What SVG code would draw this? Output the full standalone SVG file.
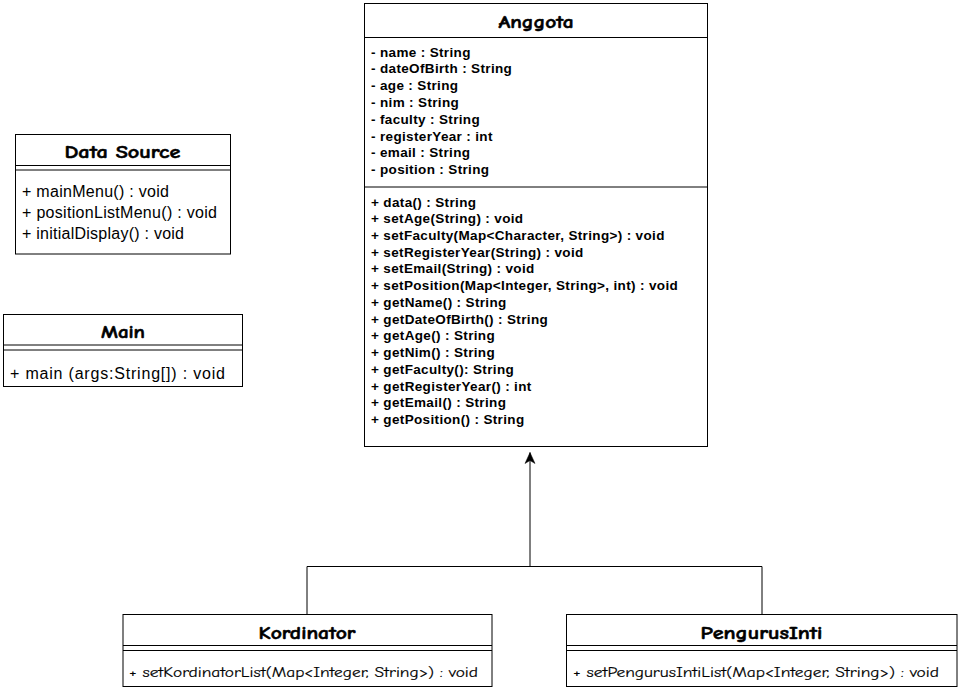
<svg xmlns="http://www.w3.org/2000/svg" width="960" height="693" viewBox="0 0 960 693">
<defs>
<style>
.box{fill:#fff;stroke:#000;stroke-width:1}
.ln{stroke:#000;stroke-width:1;fill:none}
.title{font-family:'Comic Sans MS','Comic Neue','DejaVu Sans',sans-serif;font-weight:bold;font-size:17px;text-anchor:middle;fill:#000;stroke:#000;stroke-width:0.5}
.cm{font-family:'Comic Sans MS','Comic Neue','DejaVu Sans',sans-serif;font-size:13px;fill:#000;stroke:#000;stroke-width:0.15}
.ab{font-family:'Liberation Sans',Arial,sans-serif;font-weight:bold;font-size:13.5px;letter-spacing:0.35px;fill:#000}
.ar{font-family:'Liberation Sans',Arial,sans-serif;font-size:16px;fill:#000}
</style>
<marker id="arr" viewBox="0 0 12 12" refX="11" refY="6" markerWidth="12" markerHeight="12" markerUnits="userSpaceOnUse" orient="auto">
<path d="M0,1 L11,6 L0,11 L3,6 Z" fill="#000" stroke="#000" stroke-width="0.5"/>
</marker>
</defs>
<rect width="960" height="693" fill="#fff"/>

<g id="connectors">
<path class="ln" d="M307,614.5 V566.5 H762 V614.5"/>
<path class="ln" d="M530,566.5 V452.5" marker-end="url(#arr)"/>
</g>

<g id="anggota">
<rect class="box" x="364.5" y="3.5" width="343" height="443"/>
<line class="ln" x1="364.5" y1="37.5" x2="707.5" y2="37.5"/>
<line class="ln" x1="364.5" y1="187" x2="707.5" y2="187"/>
<text class="title" x="536" y="28" textLength="75" lengthAdjust="spacingAndGlyphs">Anggota</text>
<text class="ab" x="371" y="56.5">- name : String</text>
<text class="ab" x="371" y="73.3">- dateOfBirth : String</text>
<text class="ab" x="371" y="90.1">- age : String</text>
<text class="ab" x="371" y="106.9">- nim : String</text>
<text class="ab" x="371" y="123.7">- faculty : String</text>
<text class="ab" x="371" y="140.5">- registerYear : int</text>
<text class="ab" x="371" y="157.3">- email : String</text>
<text class="ab" x="371" y="174.1">- position : String</text>
<text class="ab" x="371" y="206.5">+ data() : String</text>
<text class="ab" x="371" y="223.2">+ setAge(String) : void</text>
<text class="ab" x="371" y="240">+ setFaculty(Map&lt;Character, String&gt;) : void</text>
<text class="ab" x="371" y="256.7">+ setRegisterYear(String) : void</text>
<text class="ab" x="371" y="273.4">+ setEmail(String) : void</text>
<text class="ab" x="371" y="290.2">+ setPosition(Map&lt;Integer, String&gt;, int) : void</text>
<text class="ab" x="371" y="306.9">+ getName() : String</text>
<text class="ab" x="371" y="323.6">+ getDateOfBirth() : String</text>
<text class="ab" x="371" y="340.3">+ getAge() : String</text>
<text class="ab" x="371" y="357.1">+ getNim() : String</text>
<text class="ab" x="371" y="373.8">+ getFaculty(): String</text>
<text class="ab" x="371" y="390.5">+ getRegisterYear() : int</text>
<text class="ab" x="371" y="407.3">+ getEmail() : String</text>
<text class="ab" x="371" y="424">+ getPosition() : String</text>
</g>

<g id="data-source">
<rect class="box" x="15.5" y="134.5" width="215" height="119.5"/>
<line class="ln" x1="15.5" y1="165.5" x2="230.5" y2="165.5"/>
<line class="ln" x1="15.5" y1="170" x2="230.5" y2="170"/>
<text class="title" x="122.5" y="158" textLength="116" lengthAdjust="spacingAndGlyphs">Data Source</text>
<text class="ar" x="22" y="197" textLength="147">+ mainMenu() : void</text>
<text class="ar" x="22" y="218" textLength="195">+ positionListMenu() : void</text>
<text class="ar" x="22" y="239" textLength="162">+ initialDisplay() : void</text>
</g>

<g id="main">
<rect class="box" x="3.5" y="314.5" width="239" height="72"/>
<line class="ln" x1="3.5" y1="345" x2="242.5" y2="345"/>
<line class="ln" x1="3.5" y1="350" x2="242.5" y2="350"/>
<text class="title" x="123" y="338" textLength="44" lengthAdjust="spacingAndGlyphs">Main</text>
<text class="ar" x="10" y="378.5" textLength="215">+ main (args:String[]) : void</text>
</g>

<g id="kordinator">
<rect class="box" x="123" y="614.5" width="369" height="72"/>
<line class="ln" x1="123" y1="645.5" x2="492" y2="645.5"/>
<line class="ln" x1="123" y1="650.5" x2="492" y2="650.5"/>
<text class="title" x="307" y="639" textLength="97" lengthAdjust="spacingAndGlyphs">Kordinator</text>
<text class="cm" x="129" y="677" textLength="349" lengthAdjust="spacingAndGlyphs">+ setKordinatorList(Map&lt;Integer, String&gt;) : void</text>
</g>

<g id="pengurus-inti">
<rect class="box" x="566.5" y="614.5" width="390.5" height="72"/>
<line class="ln" x1="566.5" y1="645.5" x2="957" y2="645.5"/>
<line class="ln" x1="566.5" y1="650.5" x2="957" y2="650.5"/>
<text class="title" x="761.5" y="639" textLength="122" lengthAdjust="spacingAndGlyphs">PengurusInti</text>
<text class="cm" x="573" y="677" textLength="366" lengthAdjust="spacingAndGlyphs">+ setPengurusIntiList(Map&lt;Integer, String&gt;) : void</text>
</g>
</svg>
